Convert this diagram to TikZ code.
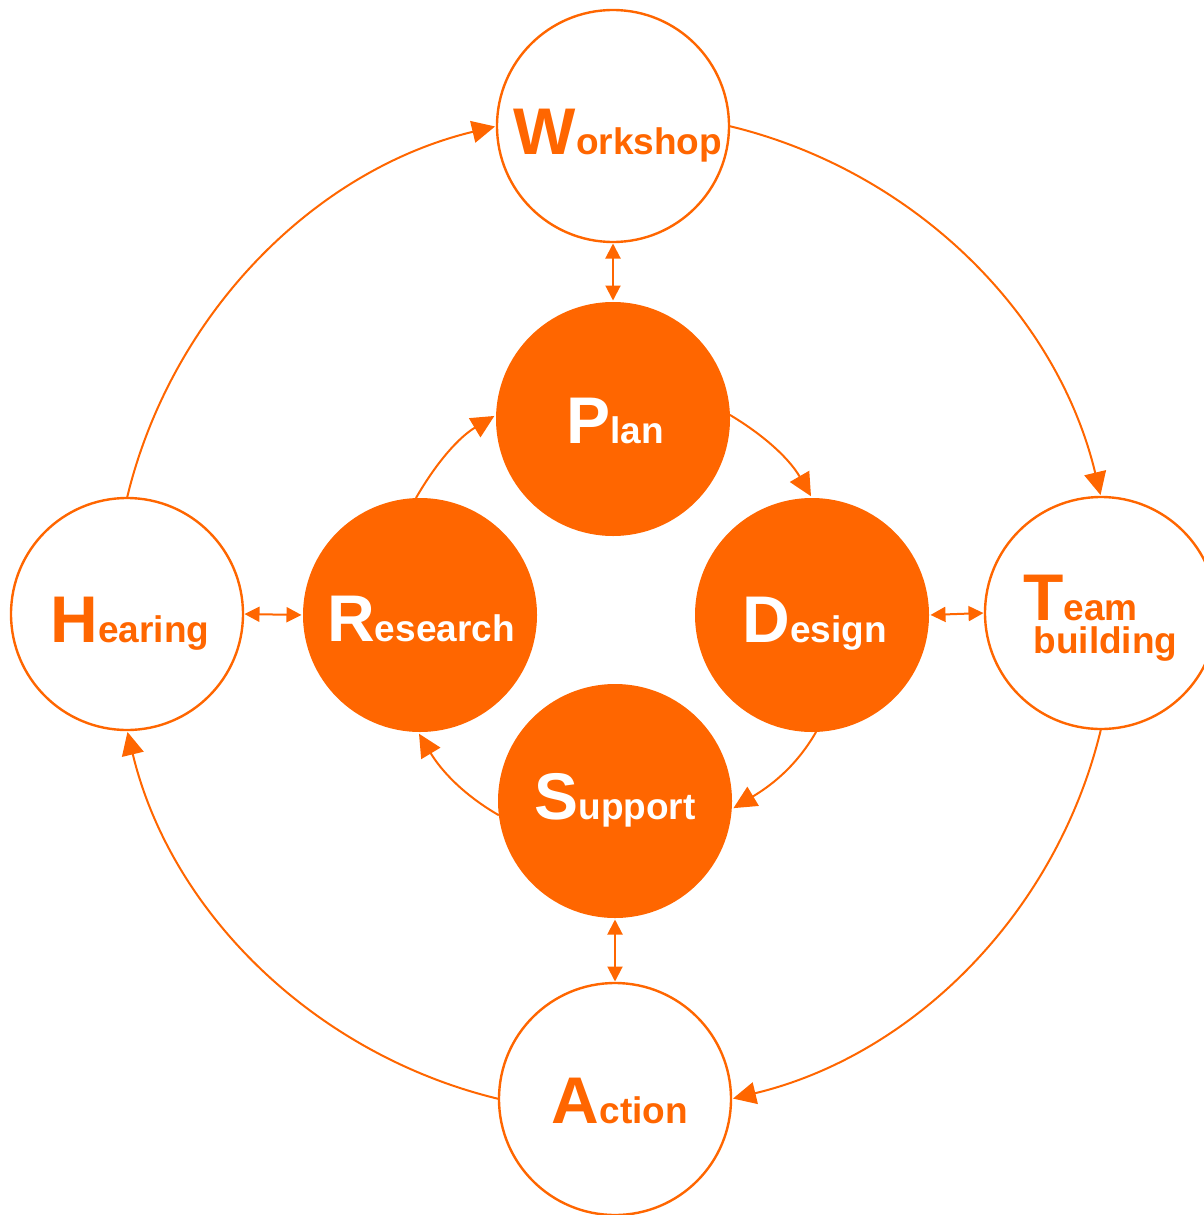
\documentclass[tikz,border=0pt]{standalone}
\usepackage{fontspec}
\setmainfont{Liberation Sans}
\usetikzlibrary{arrows.meta}
\definecolor{org}{RGB}{255,102,0}
\newcommand\mylab[2]{{\fontsize{66}{66}\selectfont #1}{\fontsize{37}{37}\selectfont #2}}
\begin{document}
\begin{tikzpicture}[x=1pt,y=1pt,
  outer/.style={circle,draw=org,line width=2.4pt,fill=white,minimum size=232pt,inner sep=0pt,outer sep=0pt},
  inner/.style={circle,fill=org,minimum size=234pt,inner sep=0pt,outer sep=0pt},
  txto/.style={text=org,font=\bfseries,inner sep=0pt,anchor=base},
  txti/.style={text=white,font=\bfseries,inner sep=0pt,anchor=base},
  conn/.style={draw=org,line width=2pt,-{Triangle[length=23pt,width=22pt]},shorten >=2pt},
  dbl/.style={draw=org,line width=2pt,{Triangle[length=15pt,width=15pt]}-{Triangle[length=15pt,width=15pt]},shorten >=1.5pt,shorten <=1.5pt}]
\useasboundingbox (0,0) rectangle (1204,-1215);
% outer circles
\node[outer] (ws) at (613,-126) {};
\node[outer] (hr) at (127,-614) {};
\node[outer] (tb) at (1101,-613) {};
\node[outer] (ac) at (615,-1099) {};
% inner circles
\node[inner] (pl) at (613,-419) {};
\node[inner] (rs) at (420,-615) {};
\node[inner] (ds) at (812,-615) {};
\node[inner] (sp) at (615,-801) {};
% labels
\node[txto,xshift=5pt,yshift=-28pt] (wsT) at (ws.center) {\mylab{W}{orkshop}};
\node[txto,xshift=3pt,yshift=-28pt] (hrT) at (hr.center) {\mylab{H}{earing}};
\node[txto,xshift=5pt,yshift=-24pt] (acT) at (ac.center) {\mylab{A}{ction}};
\node[txto,anchor=base west,xshift=-78pt,yshift=-7pt] (tbT) at (tb.center)
  {\mylab{T}{eam}\hspace*{-104pt}\raisebox{-33pt}{\fontsize{37}{37}\selectfont building}};
\node[txti,xshift=2pt,yshift=-24pt] (plT) at (pl.center) {\mylab{P}{lan}};
\node[txti,xshift=1pt,yshift=-26pt] (rsT) at (rs.center) {\mylab{R}{esearch}};
\node[txti,xshift=2.5pt,yshift=-27pt] (dsT) at (ds.center) {\mylab{D}{esign}};
\node[txti,xshift=0pt,yshift=-18pt] (spT) at (sp.center) {\mylab{S}{upport}};
% outer cycle
\draw[conn] (hr.north) to[out=76.5,in=193.5,looseness=0.92] (ws.west);
\draw[conn] (ws.east) to[out=-13.5,in=103.5,looseness=0.92] (tb.north);
\draw[conn] (tb.south) to[out=-103.5,in=13.5,looseness=0.92] (ac.east);
\draw[conn] (ac.west) to[out=166.5,in=-76.5,looseness=0.92] (hr.south);
% inner cycle
\draw[conn] (rs.92) to[out=60,in=211,looseness=0.95] (pl.178);
\draw[conn] (pl.2) to[out=-31,in=120,looseness=0.95] (ds.north);
\draw[conn] (ds.-88) to[out=-120,in=31,looseness=0.95] (sp.-4);
\draw[conn] (sp.187) to[out=150,in=-59,looseness=0.95] (rs.-91);
% double arrows
\draw[dbl] (ws.south) -- (pl.north);
\draw[dbl] (hr.east) -- (rs.west);
\draw[dbl] (ds.east) -- (tb.west);
\draw[dbl] (sp.south) -- (ac.north);
\end{tikzpicture}
\end{document}
